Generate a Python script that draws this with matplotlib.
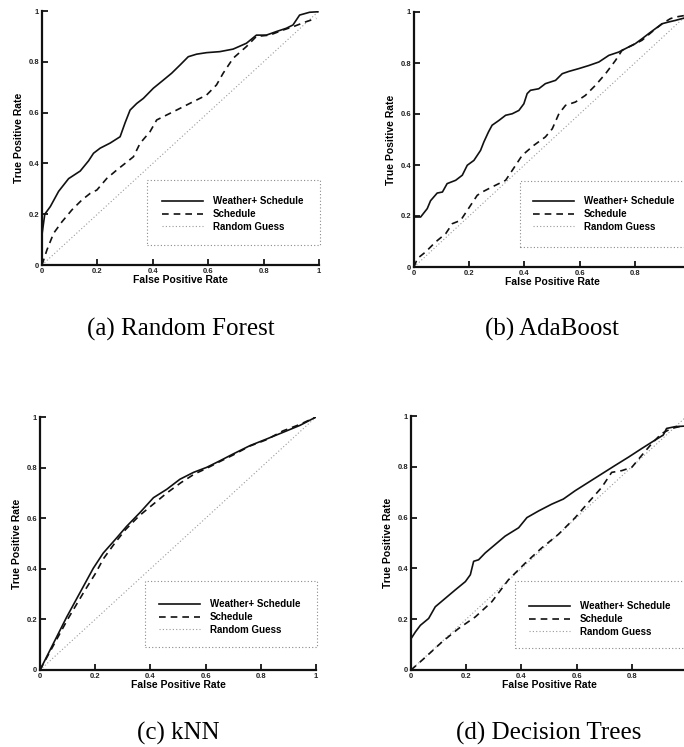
import numpy as np
import matplotlib.pyplot as plt
from matplotlib.patches import Rectangle

W, H = 684, 747

# (a) Random Forest
rf_ws_x = [0, 0.01, 0.03, 0.06, 0.096, 0.138, 0.168, 0.186, 0.21, 0.246, 0.282, 0.30, 0.318, 0.342, 0.366, 0.402,
           0.438, 0.468, 0.498, 0.528, 0.558, 0.594, 0.642, 0.69, 0.738, 0.774, 0.81, 0.846, 0.882, 0.906, 0.93, 0.966, 0.996]
rf_ws_y = [0.12, 0.2, 0.23, 0.29, 0.34, 0.37, 0.41, 0.44, 0.46, 0.48, 0.505, 0.56, 0.61, 0.636, 0.656, 0.696,
           0.728, 0.755, 0.787, 0.82, 0.83, 0.836, 0.84, 0.85, 0.873, 0.905, 0.905, 0.919, 0.932, 0.945, 0.984, 0.995, 0.997]
rf_s_x = [0, 0.018, 0.042, 0.072, 0.108, 0.144, 0.174, 0.198, 0.234, 0.27, 0.33, 0.354, 0.39, 0.414, 0.438, 0.486,
          0.546, 0.594, 0.63, 0.654, 0.69, 0.738, 0.774, 0.822, 0.87, 0.906, 0.954, 0.99]
rf_s_y = [0.0, 0.06, 0.125, 0.17, 0.217, 0.256, 0.282, 0.295, 0.341, 0.374, 0.426, 0.479, 0.525, 0.571, 0.584, 0.61,
          0.643, 0.669, 0.709, 0.755, 0.814, 0.86, 0.9, 0.905, 0.925, 0.938, 0.958, 0.971]

# (b) AdaBoost
ab_ws_x = [0, 0.024, 0.048, 0.06, 0.084, 0.103, 0.12, 0.151, 0.175, 0.193, 0.217, 0.241, 0.253, 0.27, 0.283, 0.308,
           0.332, 0.356, 0.38, 0.398, 0.41, 0.422, 0.452, 0.476, 0.513, 0.537, 0.561, 0.597, 0.633, 0.67, 0.706, 0.742,
           0.778, 0.802, 0.826, 0.85, 0.875, 0.899, 0.923, 0.947, 0.971, 1.0]
ab_ws_y = [0.196, 0.196, 0.229, 0.26, 0.29, 0.294, 0.327, 0.34, 0.36, 0.399, 0.418, 0.457, 0.49, 0.53, 0.556, 0.575,
           0.595, 0.601, 0.614, 0.64, 0.68, 0.693, 0.699, 0.719, 0.732, 0.758, 0.767, 0.778, 0.79, 0.804, 0.83, 0.843,
           0.863, 0.876, 0.895, 0.915, 0.935, 0.954, 0.961, 0.967, 0.974, 0.98]
ab_s_x = [0, 0.012, 0.042, 0.078, 0.115, 0.139, 0.169, 0.193, 0.229, 0.247, 0.283, 0.332, 0.356, 0.392, 0.434, 0.476,
          0.501, 0.525, 0.549, 0.585, 0.621, 0.657, 0.694, 0.73, 0.754, 0.79, 0.826, 0.862, 0.899, 0.929, 0.947, 1.0]
ab_s_y = [0.0, 0.033, 0.059, 0.098, 0.131, 0.17, 0.183, 0.222, 0.281, 0.294, 0.314, 0.34, 0.379, 0.438, 0.477, 0.51,
          0.542, 0.601, 0.634, 0.647, 0.673, 0.712, 0.758, 0.81, 0.85, 0.869, 0.889, 0.922, 0.954, 0.974, 0.98, 0.99]

# (c) kNN
knn_ws_x = [0, 0.048, 0.097, 0.157, 0.193, 0.229, 0.272, 0.314, 0.362, 0.411, 0.459, 0.507, 0.556, 0.604, 0.652,
            0.7, 0.761, 0.821, 0.882, 0.942, 1.0]
knn_ws_y = [0, 0.104, 0.21, 0.33, 0.402, 0.462, 0.515, 0.568, 0.622, 0.681, 0.714, 0.754, 0.781, 0.801, 0.827,
            0.854, 0.887, 0.913, 0.94, 0.967, 1.0]
knn_s_x = [0, 0.05, 0.1, 0.16, 0.2, 0.23, 0.27, 0.31, 0.36, 0.41, 0.46, 0.51, 0.56, 0.6, 0.65, 0.7, 0.76, 0.82,
           0.88, 0.94, 1.0]
knn_s_y = [0, 0.1, 0.2, 0.31, 0.38, 0.44, 0.5, 0.555, 0.61, 0.655, 0.7, 0.74, 0.775, 0.795, 0.823, 0.85, 0.885,
           0.91, 0.945, 0.97, 1.0]

# (d) Decision Trees
dt_ws_x = [0, 0.016, 0.034, 0.064, 0.088, 0.124, 0.16, 0.197, 0.215, 0.227, 0.245, 0.269, 0.305, 0.341, 0.39,
           0.42, 0.462, 0.51, 0.552, 0.595, 0.643, 0.691, 0.739, 0.788, 0.836, 0.884, 0.914, 0.926, 0.957, 0.987]
dt_ws_y = [0.123, 0.15, 0.176, 0.203, 0.249, 0.282, 0.315, 0.348, 0.375, 0.428, 0.434, 0.461, 0.494, 0.527, 0.56,
           0.6, 0.626, 0.653, 0.673, 0.706, 0.739, 0.772, 0.805, 0.838, 0.872, 0.905, 0.925, 0.951, 0.958, 0.96]
dt_s_x = [0, 0.052, 0.112, 0.172, 0.233, 0.293, 0.353, 0.414, 0.474, 0.534, 0.595, 0.643, 0.691, 0.727, 0.764,
          0.8, 0.836, 0.872, 0.908, 0.944, 0.98]
dt_s_y = [0, 0.05, 0.11, 0.163, 0.209, 0.269, 0.355, 0.421, 0.481, 0.534, 0.6, 0.66, 0.719, 0.778, 0.785,
          0.798, 0.845, 0.891, 0.931, 0.951, 0.96]

ticks = [0, 0.2, 0.4, 0.6, 0.8, 1]
tick_labels = ["0", "0.2", "0.4", "0.6", "0.8", "1"]
names = ["Weather+ Schedule", "Schedule", "Random Guess"]

panels = [
    ("(a) Random Forest", (42, 319, 11, 265), rf_ws_x, rf_ws_y, rf_s_x, rf_s_y, (147, 320, 180, 245), (162, 196)),
    ("(b) AdaBoost", (414, 690, 12, 267), ab_ws_x, ab_ws_y, ab_s_x, ab_s_y, (520, 700, 181, 247), (533, 196)),
    ("(c) kNN", (40, 316, 417, 670), knn_ws_x, knn_ws_y, knn_s_x, knn_s_y, (145, 317, 581, 647), (159, 599)),
    ("(d) Decision Trees", (411, 687, 416, 670), dt_ws_x, dt_ws_y, dt_s_x, dt_s_y, (515, 700, 581, 648), (529, 601)),
]

sans = ["Liberation Sans", "DejaVu Sans"]

fig = plt.figure(figsize=(W / 100, H / 100), dpi=100)

for title, (l, r, t, b), wx, wy, sx, sy, (bl, br, bt, bb), (lx, ly) in panels:
    ax = fig.add_axes([l / W, 1 - b / H, (r - l) / W, (b - t) / H])
    g, = ax.plot([0, 1], [0, 1], color="#9a9a9a", lw=0.8, ls=(0, (1, 2)))
    s, = ax.plot(sx, sy, color="#111111", lw=1.2, ls=(0, (4, 3)))
    w, = ax.plot(wx, wy, color="#111111", lw=1.2)
    ax.set_xlim(0, 1)
    ax.set_ylim(0, 1)
    for sp in ("top", "right"):
        ax.spines[sp].set_visible(False)
    for sp in ("left", "bottom"):
        ax.spines[sp].set_linewidth(1.6)
        ax.spines[sp].set_color("#111111")
    ax.set_xticks(ticks)
    ax.set_yticks(ticks)
    # right-hand panels run off the page, so their last x label is not shown
    xl = tick_labels if r < W else tick_labels[:-1] + [""]
    ax.set_xticklabels(xl, fontsize=5.5, fontweight="bold", family=sans, color="#222222")
    ax.set_yticklabels(tick_labels, fontsize=5.5, fontweight="bold", family=sans, color="#222222")
    ax.tick_params(direction="in", length=4, width=1.2, pad=2)
    ax.set_xlabel("False Positive Rate", fontsize=7.5, fontweight="bold", family=sans, labelpad=0)
    ax.set_ylabel("True Positive Rate", fontsize=7.5, fontweight="bold", family=sans, labelpad=3)

    fig.patches.append(Rectangle((bl / W, 1 - bb / H), (br - bl) / W, (bb - bt) / H,
                                 transform=fig.transFigure, fill=False, ec="#8a8a8a",
                                 lw=0.8, ls=(0, (1, 2))))
    fig.legend([w, s, g], names, loc="upper left", bbox_to_anchor=(lx / W, 1 - ly / H),
               frameon=False, borderpad=0, borderaxespad=0, handlelength=4.2,
               handletextpad=1.0, labelspacing=0.3,
               prop={"family": sans, "weight": "bold", "size": 7})

    fig.text(((l + r) / 2) / W, 1 - (329 if t < 100 else 733) / H, title,
             ha="center", va="center", fontsize=18, family="Liberation Serif")

fig.savefig("out.png", dpi=100)
